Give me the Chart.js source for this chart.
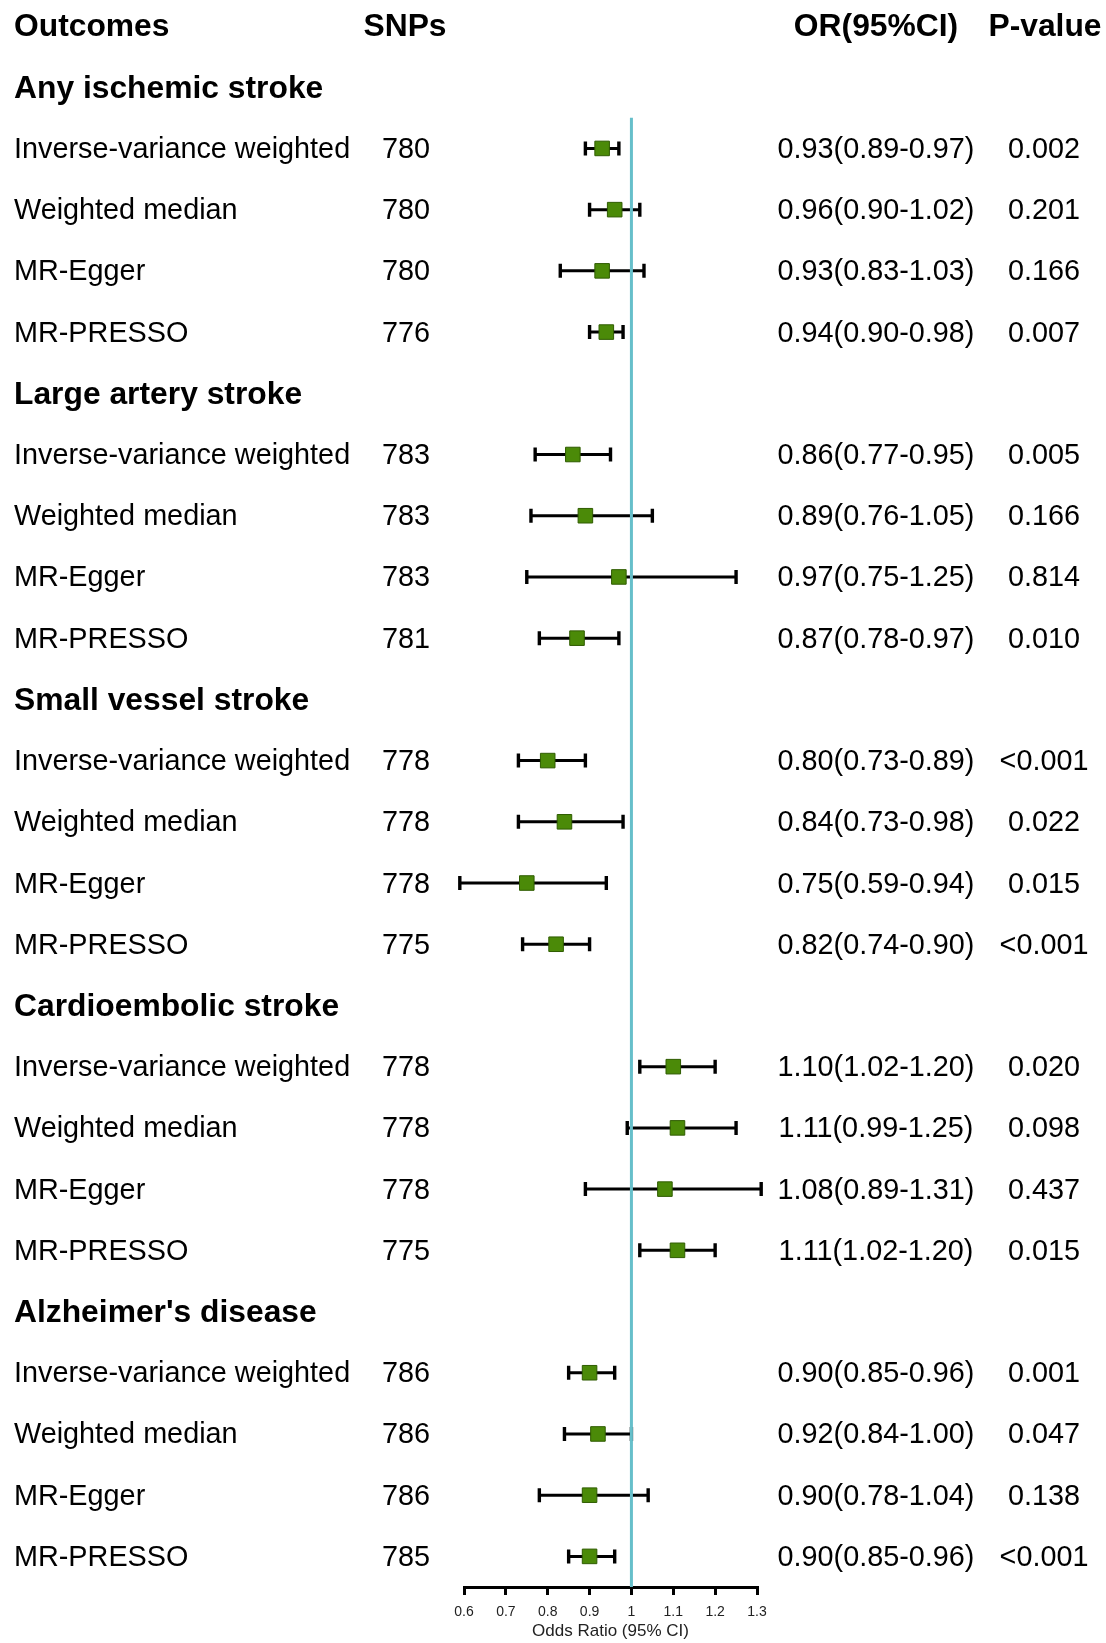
<!DOCTYPE html>
<html>
<head>
<meta charset="utf-8">
<script src="https://cdn.jsdelivr.net/npm/chart.js@4/dist/chart.umd.min.js"></script>
<style>
  body { margin: 0; background: #fff; }
  #wrap { width: 1106px; height: 1643px; position: relative; }
</style>
</head>
<body>
<div id="wrap"><canvas id="forest"></canvas></div>
<script>
const outcomes = ['Any ischemic stroke', 'Large artery stroke', 'Small vessel stroke', 'Cardioembolic stroke', "Alzheimer's disease"];
const methods = ['Inverse-variance weighted', 'Weighted median', 'MR-Egger', 'MR-PRESSO'];
const snps = [[780, 780, 780, 776], [783, 783, 783, 781], [778, 778, 778, 775], [778, 778, 778, 775], [786, 786, 786, 785]];
const oddsRatio = [[0.93, 0.96, 0.93, 0.94], [0.86, 0.89, 0.97, 0.87], [0.80, 0.84, 0.75, 0.82], [1.10, 1.11, 1.08, 1.11], [0.90, 0.92, 0.90, 0.90]];
const lower = [[0.89, 0.90, 0.83, 0.90], [0.77, 0.76, 0.75, 0.78], [0.73, 0.73, 0.59, 0.74], [1.02, 0.99, 0.89, 1.02], [0.85, 0.84, 0.78, 0.85]];
const upper = [[0.97, 1.02, 1.03, 0.98], [0.95, 1.05, 1.25, 0.97], [0.89, 0.98, 0.94, 0.90], [1.20, 1.25, 1.31, 1.20], [0.96, 1.00, 1.04, 0.96]];
const pValues = [['0.002', '0.201', '0.166', '0.007'], ['0.005', '0.166', '0.814', '0.010'], ['<0.001', '0.022', '0.015', '<0.001'], ['0.020', '0.098', '0.437', '0.015'], ['0.001', '0.047', '0.138', '<0.001']];
const axisTicks = [0.6, 0.7, 0.8, 0.9, 1, 1.1, 1.2, 1.3];
const headers = ['Outcomes', 'SNPs', 'OR(95%CI)', 'P-value'];

// row 0 = column headers, then per outcome one title row + one row per method
const rows = [];
outcomes.forEach((name, g) => {
    rows.push({ type: 'group', label: name });
    methods.forEach((m, i) => {
        rows.push({
            type: 'item', label: m, snp: snps[g][i],
            or: oddsRatio[g][i], lo: lower[g][i], hi: upper[g][i], p: pValues[g][i]
        });
    });
});
const points = [];
rows.forEach((r, idx) => { if (r.type === 'item') points.push({ x: r.or, y: idx + 1 }); });

const FONT = 'Arial, "Liberation Sans", sans-serif';
const BOLD_SIZE = 31.8;
const TEXT_SIZE = 28.8;

function drawText(ctx, text, x, y, size, bold, align) {
    ctx.font = (bold ? 'bold ' : '') + size + 'px ' + FONT;
    ctx.textAlign = align;
    ctx.textBaseline = 'alphabetic';
    ctx.fillStyle = '#000';
    ctx.fillText(text, x, y + size * 0.33);
}

const forestPlugin = {
    id: 'forest',
    beforeDatasetsDraw(chart) {
        const { ctx, scales: { x, y } } = chart;
        ctx.save();
        // confidence intervals
        ctx.strokeStyle = '#000';
        rows.forEach((r, idx) => {
            if (r.type !== 'item') return;
            const py = y.getPixelForValue(idx + 1);
            const x0 = x.getPixelForValue(r.lo);
            const x1 = x.getPixelForValue(r.hi);
            ctx.lineWidth = 3;
            ctx.beginPath();
            ctx.moveTo(x0, py);
            ctx.lineTo(x1, py);
            ctx.stroke();
            ctx.lineWidth = 3.4;
            ctx.beginPath();
            ctx.moveTo(x0, py - 7); ctx.lineTo(x0, py + 7);
            ctx.moveTo(x1, py - 7); ctx.lineTo(x1, py + 7);
            ctx.stroke();
        });
        // reference line at OR = 1
        const rx = x.getPixelForValue(1);
        ctx.strokeStyle = '#66bfca';
        ctx.lineWidth = 3;
        ctx.beginPath();
        ctx.moveTo(rx, y.getPixelForValue(1.5));
        ctx.lineTo(rx, chart.chartArea.bottom);
        ctx.stroke();
        ctx.restore();
    },
    afterDraw(chart) {
        const { ctx, scales: { y } } = chart;
        ctx.save();
        const hy = y.getPixelForValue(0);
        drawText(ctx, headers[0], 14, hy, BOLD_SIZE, true, 'left');
        drawText(ctx, headers[1], 405, hy, BOLD_SIZE, true, 'center');
        drawText(ctx, headers[2], 876, hy, BOLD_SIZE, true, 'center');
        drawText(ctx, headers[3], 1045, hy, BOLD_SIZE, true, 'center');
        rows.forEach((r, idx) => {
            const py = y.getPixelForValue(idx + 1);
            if (r.type === 'group') {
                drawText(ctx, r.label, 14, py, BOLD_SIZE, true, 'left');
                return;
            }
            drawText(ctx, r.label, 14, py, TEXT_SIZE, false, 'left');
            drawText(ctx, String(r.snp), 406, py, TEXT_SIZE, false, 'center');
            const orText = r.or.toFixed(2) + '(' + r.lo.toFixed(2) + '-' + r.hi.toFixed(2) + ')';
            drawText(ctx, orText, 876, py, TEXT_SIZE, false, 'center');
            drawText(ctx, r.p, 1044, py, TEXT_SIZE, false, 'center');
        });
        ctx.restore();
    }
};

new Chart(document.getElementById('forest'), {
    type: 'scatter',
    data: {
        datasets: [{
            data: points,
            pointStyle: 'rect',
            pointRadius: 10.3,
            pointHoverRadius: 10.3,
            backgroundColor: '#4b8a08',
            borderColor: '#2f5c00',
            borderWidth: 1
        }]
    },
    options: {
        responsive: true,
        maintainAspectRatio: false,
        animation: false,
        events: [],
        layout: { padding: { left: 464, right: 349, top: 26, bottom: 0 } },
        plugins: { legend: { display: false }, tooltip: { enabled: false } },
        scales: {
            x: {
                type: 'linear',
                min: 0.6,
                max: 1.3,
                afterBuildTicks: scale => { scale.ticks = axisTicks.map(v => ({ value: v })); },
                afterFit: scale => { scale.height = 56; },
                ticks: {
                    callback: v => String(Number(v.toFixed(1))),
                    font: { family: FONT, size: 14 },
                    color: '#222',
                    padding: 9,
                    maxRotation: 0,
                    autoSkip: false
                },
                grid: { drawOnChartArea: false, drawTicks: true, tickLength: 8, color: '#000', lineWidth: 3 },
                border: { display: true, color: '#000', width: 3 },
                title: { display: true, text: 'Odds Ratio (95% CI)', font: { family: FONT, size: 17 }, color: '#222', padding: { top: 0, bottom: 1 } }
            },
            y: {
                type: 'linear',
                display: false,
                reverse: true,
                min: 0,
                max: 25.5
            }
        }
    },
    plugins: [forestPlugin]
});
</script>
</body>
</html>
